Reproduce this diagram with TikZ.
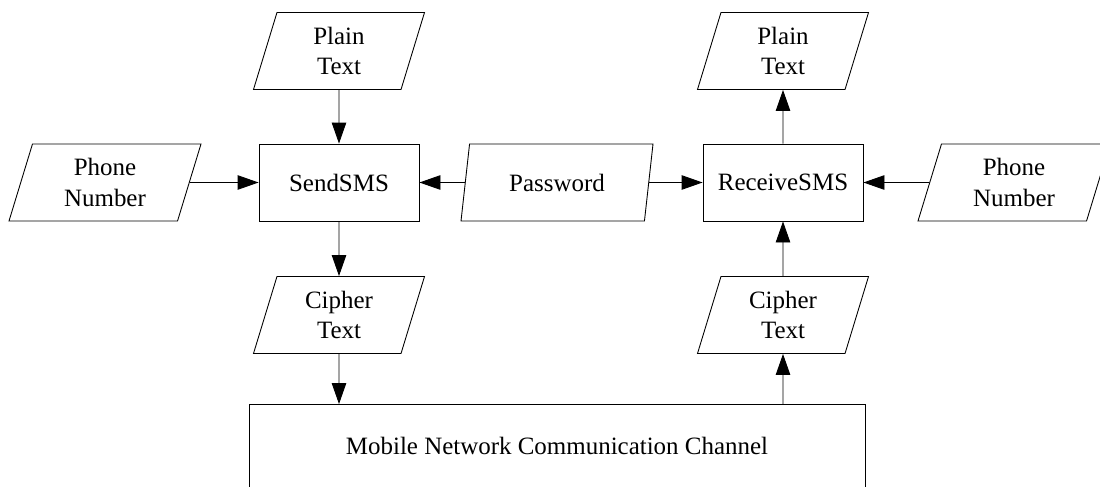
\documentclass[tikz,border=0pt]{standalone}
\usepackage{fontspec}
\setmainfont{Liberation Serif}
\usetikzlibrary{arrows.meta,positioning,shapes}
\usetikzlibrary{calc}

\tikzset{
  data/.style={draw, trapezium, trapezium left angle=64, trapezium right angle=116,
    trapezium stretches body, minimum height=1.54cm, align=center, inner sep=0pt,
    font=\fontsize{14.2}{17.4}\selectfont},
  proc/.style={draw, rectangle, minimum width=3.2cm, minimum height=1.54cm,
    font=\fontsize{14.2}{17.4}\selectfont},
  chan/.style={draw, rectangle, minimum width=12.32cm, minimum height=1.66cm,
    font=\fontsize{14.2}{17.4}\selectfont},
  flow/.style={-{Triangle[length=0.42cm,width=0.29cm]}}
}

\begin{document}
\begin{tikzpicture}[line width=0.5pt]
  \useasboundingbox (0,0) rectangle (22,9.72);
  \clip (0,0) rectangle (22,9.72);

  % processes
  \node[proc] (send) at (6.78, 6.07) {SendSMS};
  \node[proc] (recv) at (15.66, 6.07) {ReceiveSMS};

  % data
  \node[data, minimum width=3.42cm] (ptL) at (6.78, 8.70) {Plain\\Text};
  \node[data, minimum width=3.42cm] (ptR) at (15.66, 8.70) {Plain\\Text};
  \node[data, minimum width=3.84cm] (phL) at (2.10, 6.07) {Phone\\Number};
  \node[data, minimum width=3.84cm] (pwd) at (11.14, 6.07) {Password};
  \node[data, minimum width=3.84cm] (phR) at (20.28, 6.07) {Phone\\Number};
  \node[data, minimum width=3.42cm] (ctL) at (6.78, 3.42) {Cipher\\Text};
  \node[data, minimum width=3.42cm] (ctR) at (15.66, 3.42) {Cipher\\Text};

  % channel
  \node[chan] (net) at (11.14, 0.80) {Mobile Network Communication Channel};

  % connectors
  \draw[flow] (ptL) -- (send);
  \draw[flow] (phL) -- (send);
  \draw[flow] (pwd) -- (send);
  \draw[flow] (send) -- (ctL);
  \draw[flow] (ctL) -- (ctL |- net.north);
  \draw[flow] (pwd) -- (recv);
  \draw[flow] (phR) -- (recv);
  \draw[flow] (recv) -- (ptR);
  \draw[flow] (ctR) -- (recv);
  \draw[flow] (net.north -| ctR) -- (ctR);
\end{tikzpicture}
\end{document}
